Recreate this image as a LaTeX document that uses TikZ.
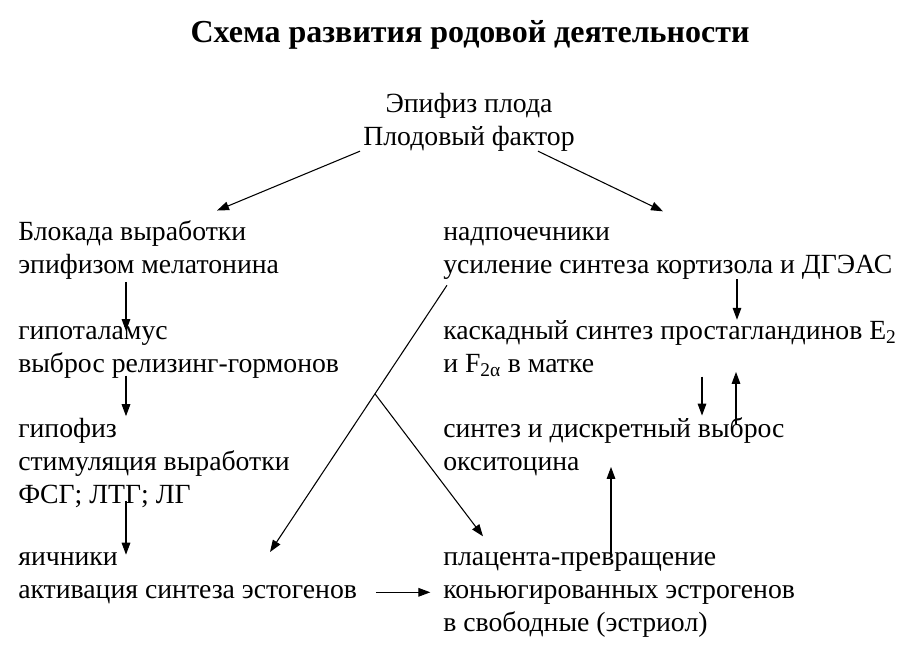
\documentclass[tikz,border=0pt]{standalone}
\usepackage{fontspec}
\setmainfont{Liberation Serif}
\usetikzlibrary{arrows.meta}
\tikzset{
	arr/.style={-{Triangle[length=9pt,width=6.5pt]},line width=0.8pt},
	txt/.style={anchor=base west,align=left,inner sep=0pt,font=\fontsize{20.8}{24.75}\selectfont},
	head/.style={anchor=base,inner sep=0pt,font=\bfseries\fontsize{24}{28}\selectfont}
}

\begin{document}
\begin{tikzpicture}[x=0.75pt,y=-0.75pt]
	\useasboundingbox (0,0) rectangle (910,646);
	\node[head] (title) at (470,42) {Схема развития родовой деятельности};
	\node[txt,anchor=base,align=center] (epif) at (469,145) {Эпифиз плода\\Плодовый фактор};
	
	\node[txt] (blok) at (18,273) {Блокада выработки\\эпифизом мелатонина};
	\node[txt] (gipot) at (18,372) {гипоталамус\\выброс релизинг-гормонов};
	\node[txt] (gipof) at (18,503) {гипофиз\\стимуляция выработки\\ФСГ; ЛТГ; ЛГ};
	\node[txt] (yaich) at (18,598) {яичники\\активация синтеза эстогенов};
	
	\node[txt] (nadp) at (443,273) {надпочечники\\усиление синтеза кортизола и ДГЭАС};
	\node[txt] (prost) at (443,372) {каскадный синтез простагландинов E\textsubscript{2}\\и F\textsubscript{2α} в матке};
	\node[txt] (okst) at (443,470) {синтез и дискретный выброс\\окситоцина};
	\node[txt] (plac) at (443,631) {плацента-превращение\\коньюгированных эстрогенов\\в свободные (эстриол)};
	
	\draw[arr] (epif.south -| 360,0) -- ([yshift=7pt]blok.north -| 217,0);
	\draw[arr] (epif.south -| 538,0) -- ([yshift=11.5pt]nadp.north -| 663,0);
	
	\draw[arr,shorten <=2pt,shorten >=-4pt] (blok.south -| 126,0) -- (gipot.north -| 126,0);
	\draw[arr,shorten <=-2pt,shorten >=1pt] (gipot.south -| 126,0) -- (gipof.north -| 126,0);
	\draw[arr,shorten <=-5pt,shorten >=-2pt] (gipof.south -| 126,0) -- (yaich.north -| 126,0);
	
	\draw[arr] ([shift={(3pt,-4.5pt)}]nadp.south west) -- coordinate[pos=0.407] (razv) (yaich.north -| 270,0);
	\draw[arr] (razv) -- ([yshift=11.5pt]plac.north -| 483,0);
	\draw[arr] ([shift={(14pt,8.5pt)}]yaich.south east) -- ([shift={(-9.5pt,8.5pt)}]plac.west |- yaich.south);
	
	\draw[arr] (nadp.south -| 737,0) -- (prost.north -| 737,0);
	\draw[arr,shorten >=1pt] (prost.south -| 702,0) -- (okst.north -| 702,0);
	\draw[arr,shorten <=-5pt,shorten >=-3.5pt] (okst.north -| 736,0) -- (prost.south -| 736,0);
	\draw[arr,shorten <=-3.5pt,shorten >=-6.5pt] (plac.north -| 611,0) -- (okst.south -| 611,0);
\end{tikzpicture}
\end{document}
